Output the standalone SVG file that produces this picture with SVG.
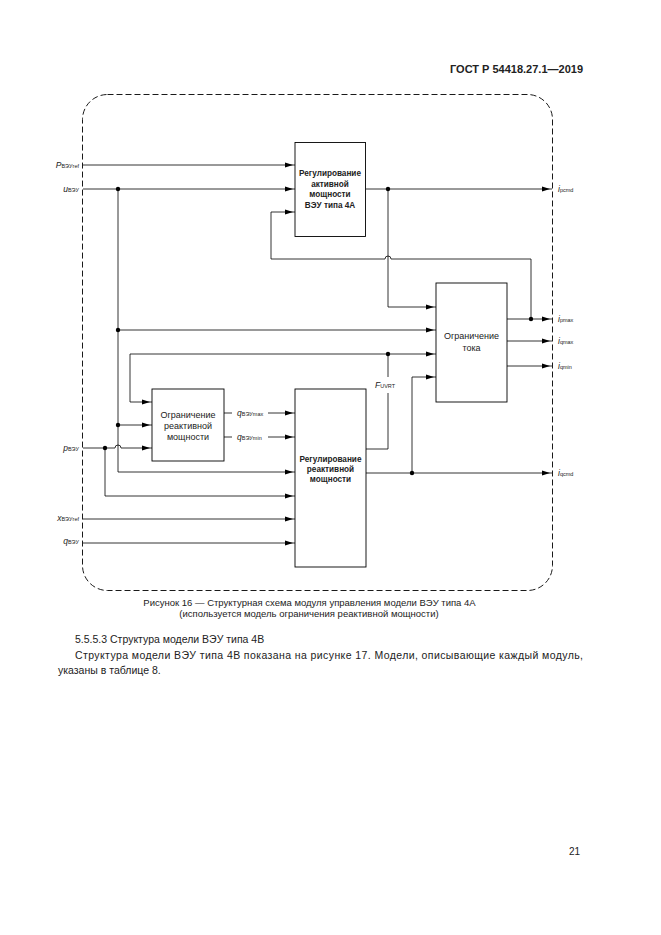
<svg xmlns="http://www.w3.org/2000/svg" width="661" height="935" viewBox="0 0 661 935">
<style>
.t{font-family:"Liberation Sans",Arial,sans-serif;fill:#222}
.bx{fill:#fff;stroke:#000;stroke-width:0.9}
.bt{font-family:"Liberation Sans",Arial,sans-serif;font-size:8.2px;fill:#222;text-anchor:middle}
.b{font-weight:bold}
.n{font-size:9px}
.ln{fill:none;stroke:#000;stroke-width:0.8}
.lb{font-family:"Liberation Sans",Arial,sans-serif;font-size:8.5px;fill:#222;font-style:italic}
.sb{font-size:5.5px;font-style:normal}
.dot{fill:#000}
</style>
<defs>
<marker id="a" viewBox="0 0 10 6" refX="10" refY="3" markerWidth="10" markerHeight="6" markerUnits="userSpaceOnUse" orient="auto">
<path d="M0,0.5 L8,3 L0,5.5 z" fill="#000"/>
</marker>
</defs>
<rect width="661" height="935" fill="#fff"/>
<text class="t" x="583" y="73" font-size="11" font-weight="bold" text-anchor="end">ГОСТ Р 54418.27.1—2019</text>

<g id="frame">
<rect x="82.5" y="94.5" width="470" height="496" rx="25" ry="25" fill="none" stroke="#000" stroke-width="0.9" stroke-dasharray="6,3"/>
</g>

<g id="connectors">
<path class="ln" d="M83,165 H295" marker-end="url(#a)"/>
<path class="ln" d="M83,189 H295" marker-end="url(#a)"/>
<path class="ln" d="M118,189 V472 H295" marker-end="url(#a)"/>
<path class="ln" d="M118,330 H436" marker-end="url(#a)"/>
<path class="ln" d="M118,425 H152" marker-end="url(#a)"/>
<path class="ln" d="M366,189 H552" marker-end="url(#a)"/>
<path class="ln" d="M388,189 V307 H436" marker-end="url(#a)"/>
<path class="ln" d="M531,319 V259 H391 A3,3 0 0 0 385,259 H271 V212 H295" marker-end="url(#a)"/>
<path class="ln" d="M507,319 H552" marker-end="url(#a)"/>
<path class="ln" d="M507,341 H552" marker-end="url(#a)"/>
<path class="ln" d="M507,366 H552" marker-end="url(#a)"/>
<path class="ln" d="M388,354 H436" marker-end="url(#a)"/>
<path class="ln" d="M388,354 H130 V402 H152" marker-end="url(#a)"/>
<path class="ln" d="M366,449 H388 V393"/>
<path class="ln" d="M388,377 V354"/>
<path class="ln" d="M224,413 H232"/>
<path class="ln" d="M268,413 H295" marker-end="url(#a)"/>
<path class="ln" d="M224,437 H232"/>
<path class="ln" d="M268,437 H295" marker-end="url(#a)"/>
<path class="ln" d="M83,448 H115 A3,3 0 0 1 121,448 H152" marker-end="url(#a)"/>
<path class="ln" d="M105,448 V496 H295" marker-end="url(#a)"/>
<path class="ln" d="M83,519 H295" marker-end="url(#a)"/>
<path class="ln" d="M83,543 H295" marker-end="url(#a)"/>
<path class="ln" d="M366,473 H552" marker-end="url(#a)"/>
<path class="ln" d="M412,473 V377 H436" marker-end="url(#a)"/>
<circle class="dot" cx="118" cy="189" r="2.2"/>
<circle class="dot" cx="118" cy="330" r="2.2"/>
<circle class="dot" cx="118" cy="425" r="2.2"/>
<circle class="dot" cx="388" cy="189" r="2.2"/>
<circle class="dot" cx="531" cy="319" r="2.2"/>
<circle class="dot" cx="388" cy="354" r="2.2"/>
<circle class="dot" cx="105" cy="448" r="2.2"/>
<circle class="dot" cx="412" cy="473" r="2.2"/>
</g>

<g id="block-active">
<rect class="bx" x="295" y="142.5" width="70.5" height="94"/>
<text class="bt b" x="330" y="176">Регулирование</text>
<text class="bt b" x="330" y="186.5">активной</text>
<text class="bt b" x="330" y="197">мощности</text>
<text class="bt b" x="330" y="207.5">ВЭУ типа 4А</text>
</g>

<g id="block-current">
<rect class="bx" x="436" y="283" width="71" height="119"/>
<text class="bt n" x="471.5" y="339">Ограничение</text>
<text class="bt n" x="471.5" y="351">тока</text>
</g>

<g id="block-qlimit">
<rect class="bx" x="152" y="389" width="72" height="72"/>
<text class="bt n" x="188" y="418">Ограничение</text>
<text class="bt n" x="188" y="429">реактивной</text>
<text class="bt n" x="188" y="440">мощности</text>
</g>

<g id="block-reactive">
<rect class="bx" x="295" y="389" width="71" height="178"/>
<text class="bt b" x="330.5" y="462">Регулирование</text>
<text class="bt b" x="330.5" y="472">реактивной</text>
<text class="bt b" x="330.5" y="482">мощности</text>
</g>

<g id="labels">
<text class="lb" x="79" y="168" text-anchor="end">P<tspan class="sb">ВЭУref</tspan></text>
<text class="lb" x="79" y="192" text-anchor="end">u<tspan class="sb">ВЭУ</tspan></text>
<text class="lb" x="79" y="451" text-anchor="end">p<tspan class="sb">ВЭУ</tspan></text>
<text class="lb" x="79" y="521" text-anchor="end">x<tspan class="sb">ВЭУref</tspan></text>
<text class="lb" x="79" y="544" text-anchor="end">q<tspan class="sb">ВЭУ</tspan></text>
<text class="lb" x="237" y="416">q<tspan class="sb">ВЭУmax</tspan></text>
<text class="lb" x="237" y="440">q<tspan class="sb">ВЭУmin</tspan></text>
<text class="lb" x="375" y="388">F<tspan class="sb">UVRT</tspan></text>
<text class="lb" x="558" y="192">i<tspan class="sb">pcmd</tspan></text>
<text class="lb" x="558" y="322">i<tspan class="sb">pmax</tspan></text>
<text class="lb" x="558" y="344">i<tspan class="sb">qmax</tspan></text>
<text class="lb" x="558" y="369">i<tspan class="sb">qmin</tspan></text>
<text class="lb" x="558" y="476">i<tspan class="sb">qcmd</tspan></text>
</g>

<text class="t" x="309.5" y="605.5" font-size="9.5" text-anchor="middle">Рисунок 16 — Структурная схема модуля управления модели ВЭУ типа 4А</text>
<text class="t" x="309" y="617" font-size="9.5" text-anchor="middle">(используется модель ограничения реактивной мощности)</text>
<text class="t" x="75" y="643" font-size="10.5">5.5.5.3 Структура модели ВЭУ типа 4В</text>
<text class="t" x="75" y="659" font-size="10.5" textLength="508" lengthAdjust="spacing">Структура модели ВЭУ типа 4В показана на рисунке 17. Модели, описывающие каждый модуль,</text>
<text class="t" x="58" y="674" font-size="10.5">указаны в таблице 8.</text>
<text class="t" x="569" y="855" font-size="10">21</text>
</svg>
